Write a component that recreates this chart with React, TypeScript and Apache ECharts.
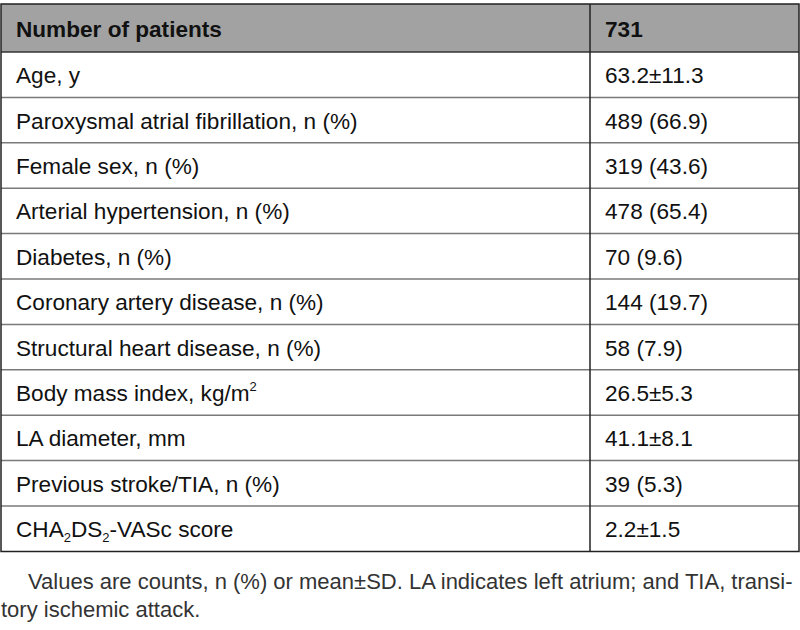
import React, { useEffect, useRef } from "react";
import * as echarts from "echarts";

const headerLabel = "Number of patients";
const headerValue = "731";
const rowLabels = [
  "Age, y",
  "Paroxysmal atrial fibrillation, n (%)",
  "Female sex, n (%)",
  "Arterial hypertension, n (%)",
  "Diabetes, n (%)",
  "Coronary artery disease, n (%)",
  "Structural heart disease, n (%)",
  "Body mass index, kg/m{sup|2}",
  "LA diameter, mm",
  "Previous stroke/TIA, n (%)",
  "CHA{sub|2}DS{sub|2}-VASc score",
];
const rowValues = [
  "63.2±11.3",
  "489 (66.9)",
  "319 (43.6)",
  "478 (65.4)",
  "70 (9.6)",
  "144 (19.7)",
  "58 (7.9)",
  "26.5±5.3",
  "41.1±8.1",
  "39 (5.3)",
  "2.2±1.5",
];
const footnoteLines = [
  "Values are counts, n (%) or mean±SD. LA indicates left atrium; and TIA, transi-",
  "tory ischemic attack.",
];

const FONT = "'Liberation Sans', Arial, Helvetica, sans-serif";

function toRich(lab: string): string {
  if (!lab.includes("{")) return lab;
  const parts: string[] = [];
  const re = /\{(\w+)\|([^}]*)\}/g;
  let last = 0;
  let m: RegExpExecArray | null;
  while ((m = re.exec(lab))) {
    if (m.index > last) parts.push("{n|" + lab.slice(last, m.index) + "}");
    parts.push(m[0]);
    last = m.index + m[0].length;
  }
  if (last < lab.length) parts.push("{n|" + lab.slice(last) + "}");
  return parts.join("");
}

export default function App() {
  const ref = useRef<HTMLDivElement>(null);
  useEffect(() => {
    if (!ref.current) return;
    const chart = echarts.init(ref.current, undefined, { renderer: "svg" });
    const top = 4;
    const headerH = 48;
    const rowH = 45.4;
    const left = 1;
    const right = 799;
    const colX = 590;
    const padL = 15;
    const bottom = top + headerH + rowH * rowLabels.length;
    const fs = 22.6;
    const textColor = "#111";
    const rich = {
      n: { fontSize: fs, fontFamily: FONT, color: textColor, lineHeight: 28 },
      sub: { fontSize: 13, fontFamily: FONT, color: textColor, verticalAlign: "bottom", lineHeight: 11 },
      sup: { fontSize: 13, fontFamily: FONT, color: textColor, verticalAlign: "top", lineHeight: 16 },
    };
    const els: any[] = [];
    els.push({
      type: "rect",
      shape: { x: left, y: top, width: right - left, height: headerH },
      style: { fill: "#a2a2a2" },
    });
    els.push({
      type: "text",
      x: left + padL,
      y: top + headerH / 2 + 1,
      style: { text: headerLabel, fontSize: fs, fontWeight: "bold", fontFamily: FONT, fill: textColor, verticalAlign: "middle" },
    });
    els.push({
      type: "text",
      x: colX + padL,
      y: top + headerH / 2 + 1,
      style: { text: headerValue, fontSize: fs, fontWeight: "bold", fontFamily: FONT, fill: textColor, verticalAlign: "middle" },
    });
    rowLabels.forEach((lab, i) => {
      const y0 = top + headerH + rowH * i;
      const cy = y0 + rowH / 2 + 1;
      els.push({
        type: "text",
        x: left + padL,
        y: cy,
        style: {
          text: toRich(lab),
          fontSize: fs,
          fontFamily: FONT,
          fill: textColor,
          verticalAlign: "middle",
          lineHeight: 28,
          rich: rich,
        },
      });
      els.push({
        type: "text",
        x: colX + padL,
        y: cy,
        style: { text: rowValues[i], fontSize: fs, fontFamily: FONT, fill: textColor, verticalAlign: "middle" },
      });
      els.push({
        type: "line",
        shape: { x1: left, y1: y0, x2: right, y2: y0 },
        style: { stroke: i === 0 ? "#333" : "#7a7a7a", lineWidth: 1.5 },
      });
    });
    els.push({
      type: "line",
      shape: { x1: colX, y1: top, x2: colX, y2: bottom },
      style: { stroke: "#222", lineWidth: 1.5 },
    });
    els.push({
      type: "rect",
      shape: { x: left, y: top, width: right - left, height: bottom - top },
      style: { fill: "none", stroke: "#222", lineWidth: 1.5 },
    });
    els.push({
      type: "text",
      x: 28,
      y: 581,
      style: { text: footnoteLines[0], fontSize: 22, fontFamily: FONT, fill: "#333", verticalAlign: "middle" },
    });
    els.push({
      type: "text",
      x: 1,
      y: 609,
      style: { text: footnoteLines[1], fontSize: 22, fontFamily: FONT, fill: "#333", verticalAlign: "middle" },
    });
    chart.setOption({
      animation: false,
      backgroundColor: "#fff",
      graphic: { elements: els },
    });
    return () => chart.dispose();
  }, []);
  return (
    <div
      ref={ref}
      style={{ position: "fixed", left: 0, top: 0, width: 800, height: 630 }}
    />
  );
}
